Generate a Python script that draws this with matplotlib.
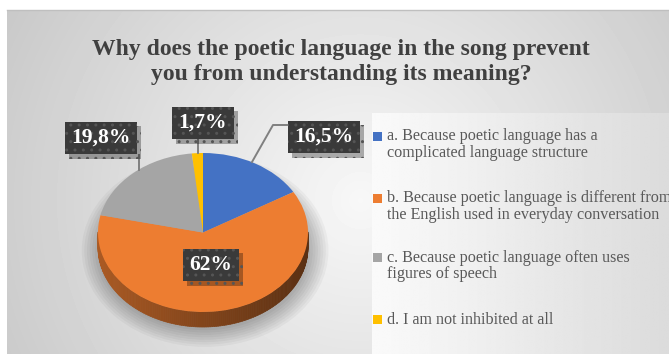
import numpy as np
import matplotlib.pyplot as plt
import matplotlib.patheffects as pe
from matplotlib.patches import Rectangle, Ellipse
from matplotlib.collections import PolyCollection
from matplotlib.colors import to_rgb

plt.rcParams['font.family'] = ['Liberation Serif', 'DejaVu Serif']

title = 'Why does the poetic language in the song prevent\nyou from understanding its meaning?'
answers = ['a. Because poetic language has a\ncomplicated language structure',
           'b. Because poetic language is different from\nthe English used in everyday conversation',
           'c. Because poetic language often uses\nfigures of speech',
           'd. I am not inhibited at all']
shares = [16.5, 62, 19.8, 1.7]
colors = ['#4472c4', '#ed7d31', '#a5a5a5', '#ffc000']

W, H = 669, 354
fig = plt.figure(figsize=(W / 100, H / 100), dpi=100)

# --- background, pixel coordinates with y going down
bg = fig.add_axes([0, 0, 1, 1])
bg.set_xlim(0, W)
bg.set_ylim(H, 0)
bg.axis('off')
yy, xx = np.mgrid[10:H, 7:W]
r = np.hypot((xx - 360) / 330, (yy - 200) / 330)
shade = np.clip(0.97 - 0.15 * r, 0, 1)
bg.imshow(shade, cmap='gray', vmin=0, vmax=1, extent=(7, W, H, 10),
          aspect='auto', interpolation='bilinear')
bg.plot([7, W], [10, 10], color='#bfbfbf', lw=1)

# legend panel: light box, fading to grey towards the right
grad = np.linspace(0.98, 0.86, 200)[None, :]
bg.imshow(grad, cmap='gray', vmin=0, vmax=1, extent=(372, W, H, 113),
          aspect='auto', interpolation='bilinear')

# --- pie, drawn as a tilted disc
cx, cy, rx, ry = 203, 232.5, 105, 79.5
depth = 15 / ry
xl, yl_lo, yl_hi = 1.2, -1.45, 1.2
pax = fig.add_axes([(cx - xl * rx) / W, (H - (cy - yl_lo * ry)) / H,
                    2 * xl * rx / W, (yl_hi - yl_lo) * ry / H])
pax.patch.set_alpha(0)

# soft shadow under the disc
for k in range(8):
    pax.add_patch(Ellipse((0.02, -depth - 0.04), 2.0 + 0.05 * k, 2.0 + 0.06 * k,
                          color='black', alpha=0.035, lw=0, zorder=0.1))

wedges, _ = pax.pie(shares, colors=colors, startangle=90, counterclock=False,
                    wedgeprops=dict(linewidth=0))
pax.set_aspect('auto')
pax.set_xlim(-xl, xl)
pax.set_ylim(yl_lo, yl_hi)

# side wall of the disc for the front facing part of each slice
bounds = 90 - 360 * np.concatenate([[0], np.cumsum(shares)]) / np.sum(shares)
quads, fills = [], []
for i, c in enumerate(colors):
    th = np.radians(np.linspace(bounds[i], bounds[i + 1], 200))
    base = np.array(to_rgb(c))
    for a, b in zip(th[:-1], th[1:]):
        if np.sin(a) > 0 and np.sin(b) > 0:
            continue
        quads.append([(np.cos(a), np.sin(a)), (np.cos(b), np.sin(b)),
                      (np.cos(b), np.sin(b) - depth), (np.cos(a), np.sin(a) - depth)])
        fills.append(base * (0.55 - 0.17 * np.cos((a + b) / 2)))
pax.add_collection(PolyCollection(quads, facecolors=fills, edgecolors=fills,
                                  linewidths=0.5, zorder=0.5))

# --- overlay for title, data labels and legend
top = fig.add_axes([0, 0, 1, 1])
top.set_xlim(0, W)
top.set_ylim(H, 0)
top.axis('off')
top.patch.set_alpha(0)

top.text(341, 62, title, ha='center', va='center', fontsize=17, fontweight='bold',
         color='#404040', linespacing=1.25)

label_xy = [(324, 137), (211, 265), (101, 138), (203, 123)]
leaders = [[(287, 125), (273, 125), (252, 162)],
           None,
           [(139, 155), (139, 170)],
           [(198, 138), (198, 153)]]
box_shadow = [pe.SimplePatchShadow(offset=(3, -3), shadow_rgbFace='black', alpha=0.3),
              pe.Normal()]
for v, (x, y), ln in zip(shares, label_xy, leaders):
    s = (f'{v:g}' if v == int(v) else f'{v:.1f}'.replace('.', ',')) + '%'
    if ln:
        top.plot(*zip(*ln), color='#808080', lw=1.4)
    t = top.text(x, y, s, ha='center', va='center', fontsize=15.5, fontweight='bold',
                 color='white',
                 bbox=dict(boxstyle='square,pad=0.3', fc='#3a3a3a', ec='#555555',
                           lw=0, hatch='..'))
    t.get_bbox_patch().set_path_effects(box_shadow)

legend_y = [137, 199, 258, 320]
for txt, c, y in zip(answers, colors, legend_y):
    top.add_patch(Rectangle((373, y - 5.5), 9, 9, color=c, lw=0))
    top.text(387, y - 8.5, txt, ha='left', va='top', fontsize=11.6,
             color='#595959', linespacing=1.05)

fig.savefig('out.png', dpi=100)
